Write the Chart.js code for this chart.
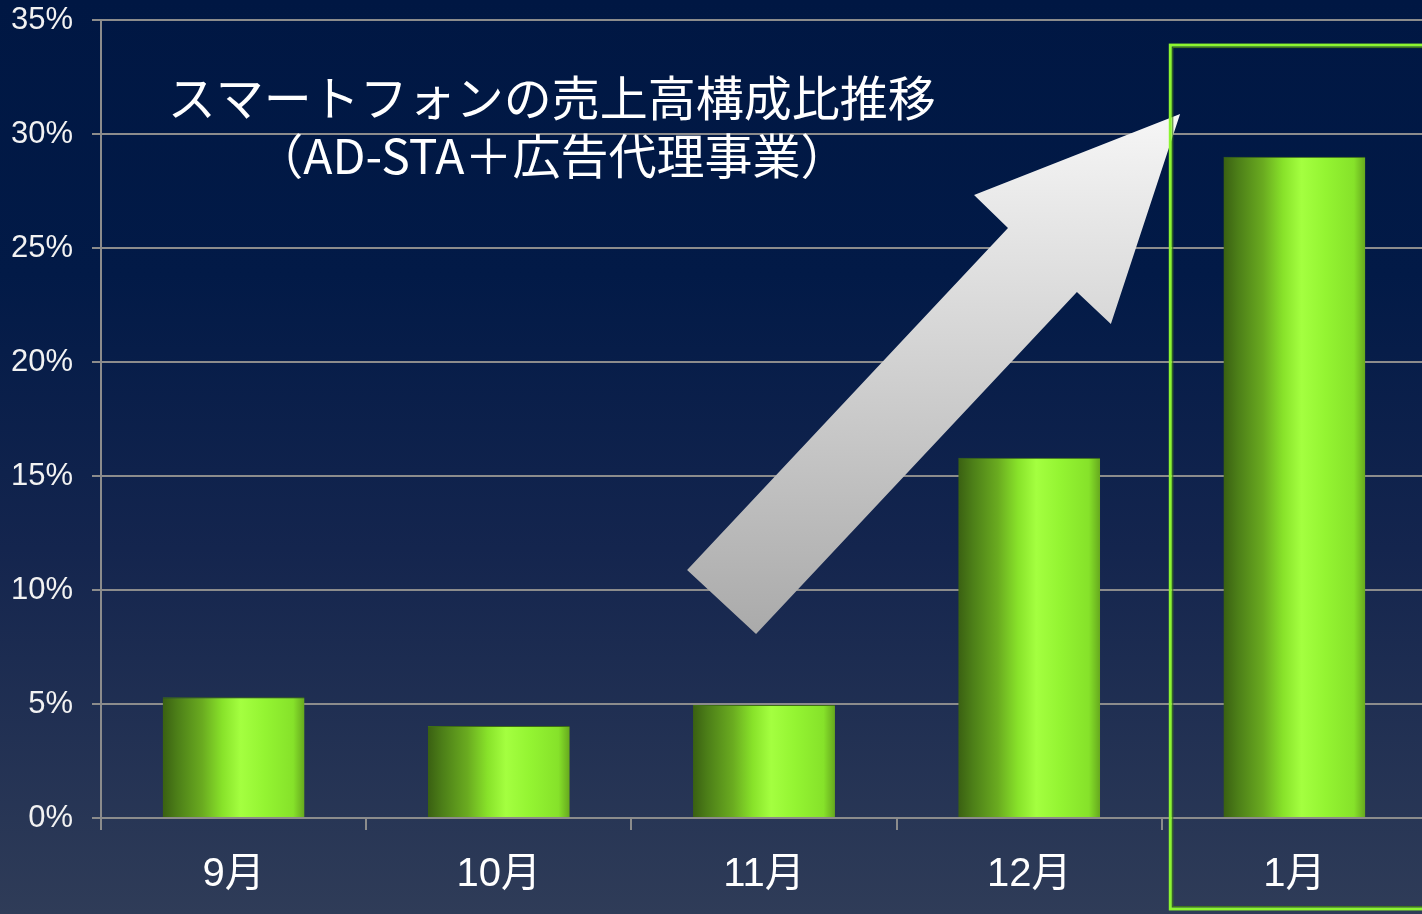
<!DOCTYPE html>
<html>
<head>
<meta charset="utf-8">
<script src="https://cdn.jsdelivr.net/npm/chart.js@4/dist/chart.umd.min.js"></script>
<style>
  html, body { margin: 0; padding: 0; width: 1422px; height: 914px; overflow: hidden; }
  body { background: linear-gradient(to bottom, #001743 0%, #021a47 30%, #14254e 60%, #2f3c58 100%); }
  #wrap { position: absolute; left: 0; top: 0; width: 1427px; height: 914px; }
</style>
</head>
<body>
<div id="wrap"><canvas id="c" width="1427" height="914"></canvas></div>
<script>
// ---- data ----
const categories = ['9月', '10月', '11月', '12月', '1月'];
const shareValues = [5.3, 4.04, 4.96, 15.8, 29.0];
const yTickStep = 5;
const yMin = 0;
const yMax = 35;
const titleLines = ['スマートフォンの売上高構成比推移', '（AD-STA＋広告代理事業）'];
// annotation arrow, in (category index, percent) units
const arrowX = [1.710, 1.970, 3.180, 3.308, 3.569, 2.792, 2.920];
const arrowY = [10.88, 8.07, 23.07, 21.67, 30.88, 27.32, 25.88];
const highlightIndex = 4;

const gray = '#8c8c8c';
const barPct = 0.535;

function barGradient(ctx) {
  const chart = ctx.chart;
  const area = chart.chartArea;
  const xs = chart.scales.x;
  if (!area || !xs || ctx.dataIndex === undefined) return '#96f536';
  const cx = xs.getPixelForValue(ctx.dataIndex);
  const w = (area.width / categories.length) * barPct;
  const g = chart.ctx.createLinearGradient(cx - w / 2, 0, cx + w / 2, 0);
  g.addColorStop(0.00, '#3a6012');
  g.addColorStop(0.10, '#4c7e18');
  g.addColorStop(0.28, '#6aab20');
  g.addColorStop(0.42, '#88e22a');
  g.addColorStop(0.55, '#a4ff40');
  g.addColorStop(0.72, '#94f432');
  g.addColorStop(0.92, '#86e22a');
  g.addColorStop(1.00, '#66a81e');
  return g;
}

const decorPlugin = {
  id: 'decor',
  afterDatasetsDraw(chart) {
    const ctx = chart.ctx;
    const xs = chart.scales.x, ys = chart.scales.y;
    // arrow
    const pts = arrowX.map((v, i) => [xs.getPixelForValue(v), ys.getPixelForValue(arrowY[i])]);
    const yTop = Math.min(...pts.map(p => p[1]));
    const yBot = Math.max(...pts.map(p => p[1]));
    const g = ctx.createLinearGradient(0, yBot, 0, yTop);
    g.addColorStop(0, '#aaaaaa');
    g.addColorStop(1, '#f6f6f6');
    ctx.save();
    ctx.beginPath();
    pts.forEach((p, i) => i ? ctx.lineTo(p[0], p[1]) : ctx.moveTo(p[0], p[1]));
    ctx.closePath();
    ctx.fillStyle = g;
    ctx.fill();
    ctx.restore();

    // highlight rectangle around last category
    const left = xs.getPixelForValue(highlightIndex - 0.468);
    const top = ys.getPixelForValue(33.9);
    const bottom = ys.getPixelForValue(-3.99);
    const right = chart.width + 10;
    ctx.save();
    ctx.strokeStyle = '#8cf530';
    ctx.lineWidth = 3;
    ctx.strokeRect(left, top, right - left, bottom - top);
    ctx.strokeStyle = '#3f7a1a';
    ctx.lineWidth = 1;
    ctx.strokeRect(left + 2.5, top + 2.5, right - left, bottom - top - 5);
    ctx.restore();
  },
  afterDraw(chart) {
    const ctx = chart.ctx;
    const xs = chart.scales.x, ys = chart.scales.y;
    const cx = xs.getPixelForValue(1.20);
    ctx.save();
    ctx.fillStyle = '#ffffff';
    ctx.textAlign = 'center';
    ctx.textBaseline = 'middle';
    ctx.font = '48px "Noto Sans CJK JP", "Liberation Sans", sans-serif';
    ctx.fillText(titleLines[0], cx, ys.getPixelForValue(31.6));
    ctx.fillText(titleLines[1], cx, ys.getPixelForValue(29.05));
    ctx.restore();
  }
};

new Chart(document.getElementById('c'), {
  type: 'bar',
  data: {
    labels: categories,
    datasets: [{
      data: shareValues,
      backgroundColor: barGradient,
      borderColor: '#3d6e14',
      borderWidth: { top: 1, left: 0, right: 0, bottom: 0 },
      borderSkipped: 'bottom',
      barPercentage: barPct,
      categoryPercentage: 1
    }]
  },
  options: {
    responsive: false,
    devicePixelRatio: 1,
    animation: false,
    layout: { padding: { top: 20, left: 0, right: 0, bottom: 0 } },
    plugins: { legend: { display: false }, tooltip: { enabled: false }, title: { display: false } },
    scales: {
      x: {
        grid: { offset: true, drawOnChartArea: false, drawTicks: true, tickLength: 12, color: gray, lineWidth: 2 },
        border: { display: true, color: gray, width: 2 },
        ticks: { color: '#ffffff', font: { size: 40, family: '"Liberation Sans", "Noto Sans CJK JP", sans-serif' }, padding: 21 },
        afterFit(scale) { scale.height = 96; scale.paddingLeft = 0; scale.paddingRight = 0; }
      },
      y: {
        min: yMin, max: yMax,
        ticks: {
          stepSize: yTickStep,
          color: '#f2f2f2',
          font: { size: 31, family: '"Liberation Sans", Arial, sans-serif' },
          padding: 19,
          callback: v => v + '%'
        },
        grid: { color: gray, lineWidth: 2, tickLength: 9 },
        border: { display: true, color: gray, width: 2 },
        afterFit(scale) { scale.width = 101; scale.paddingTop = 0; scale.paddingBottom = 0; }
      }
    }
  },
  plugins: [decorPlugin]
});
</script>
</body>
</html>
